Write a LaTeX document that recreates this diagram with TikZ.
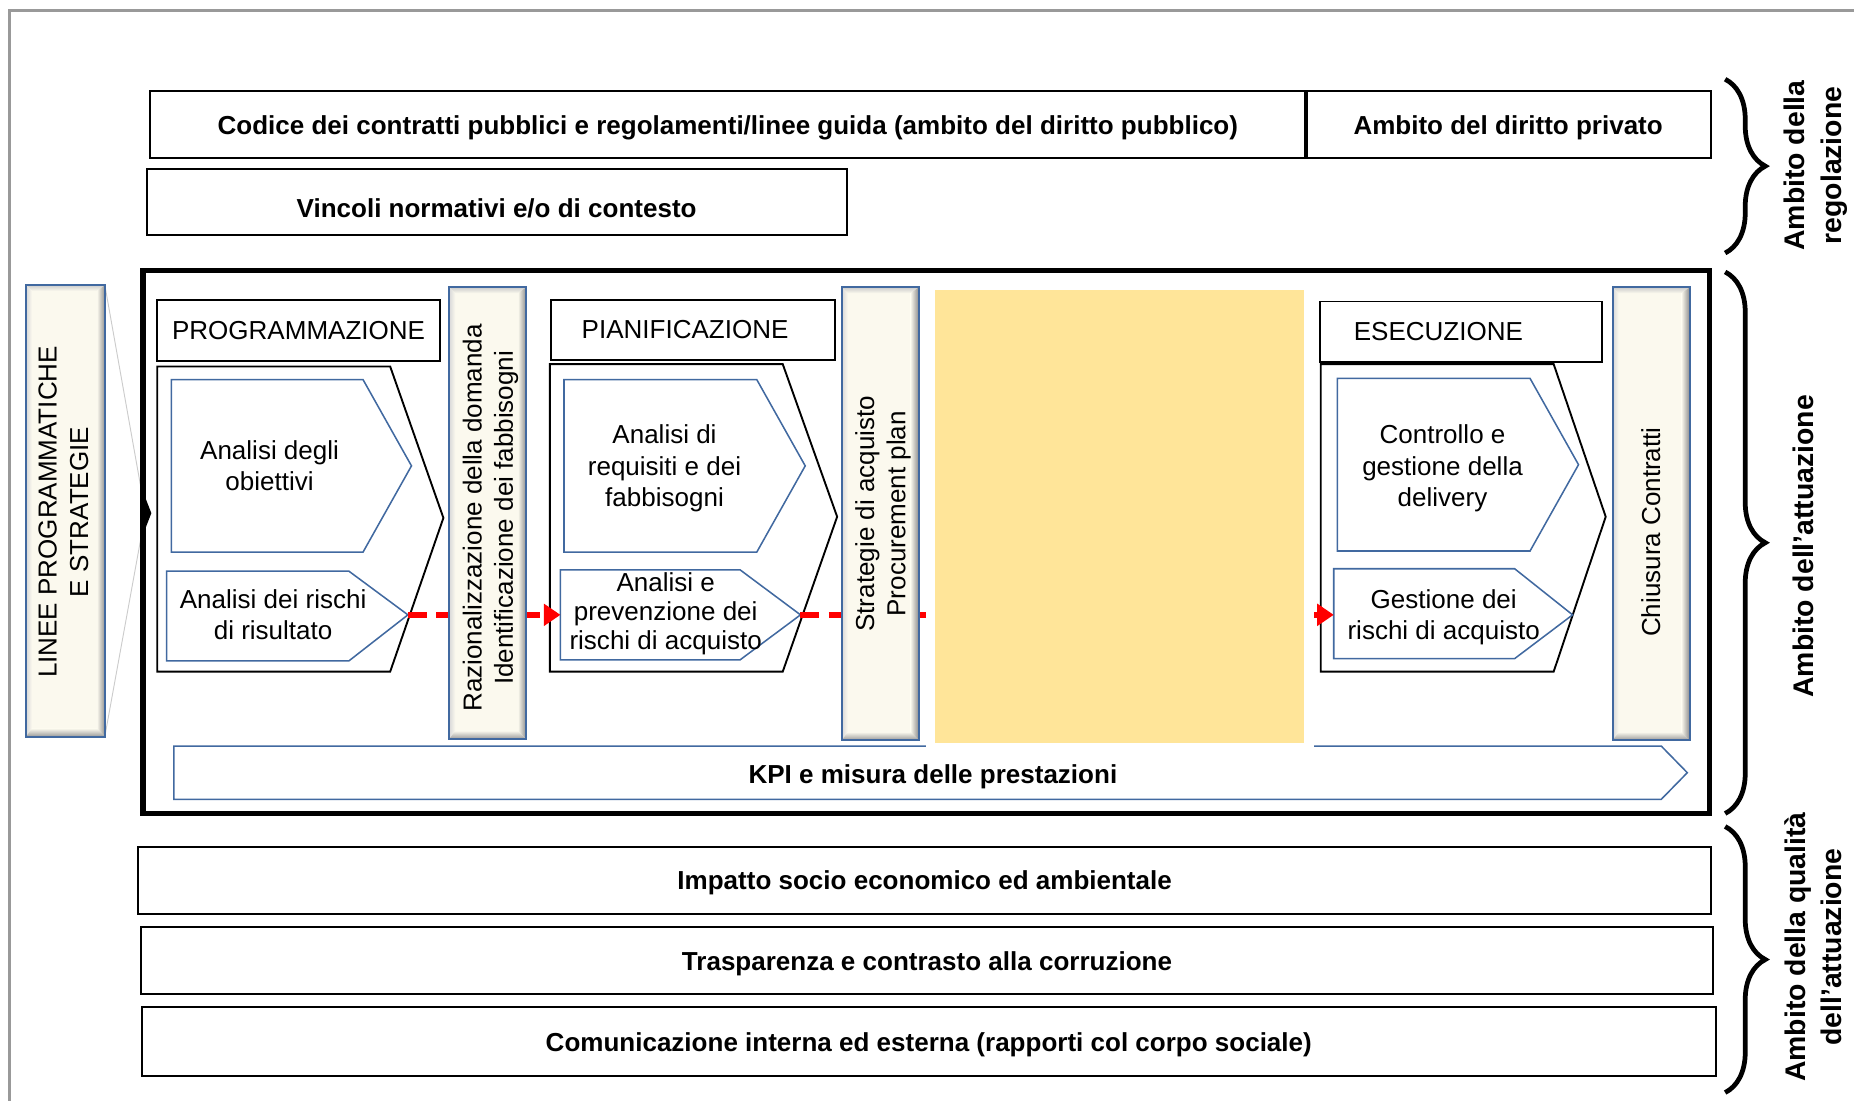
\documentclass[tikz,border=0pt]{standalone}
\usepackage{fontspec}
\setmainfont{Liberation Sans}
\usetikzlibrary{arrows.meta}
\usetikzlibrary{calc}
\usetikzlibrary{decorations.pathreplacing}

\definecolor{bordo}{RGB}{65,105,160}
\definecolor{crema}{RGB}{251,249,238}
\definecolor{giallo}{RGB}{255,229,153}
\definecolor{freccia}{RGB}{255,0,0}

% bevelled bar: corners (x1,y1) and (x2,y2)
\newcommand{\barra}[4]{%
  \fill[crema] (#1,#2) rectangle (#3,#4);
  \shade[top color=gray!40, bottom color=crema] (#1,#2) -- (#3,#2) -- ($(#3,#2)+(-0.7,0.5)$) -- ($(#1,#2)+(0.5,0.5)$) -- cycle;
  \shade[left color=gray!30, right color=crema] (#1,#2) -- ($(#1,#2)+(0.5,0.5)$) -- ($(#1,#4)+(0.5,-0.7)$) -- (#1,#4) -- cycle;
  \shade[left color=crema, right color=gray!90] (#3,#2) -- ($(#3,#2)+(-0.7,0.5)$) -- ($(#3,#4)+(-0.7,-0.7)$) -- (#3,#4) -- cycle;
  \shade[top color=crema, bottom color=gray!80] (#1,#4) -- ($(#1,#4)+(0.5,-0.7)$) -- ($(#3,#4)+(-0.7,-0.7)$) -- (#3,#4) -- cycle;
  \draw[bordo, line width=1.5pt] (#1,#2) rectangle (#3,#4);
}

\begin{document}
\begin{tikzpicture}[x=10pt,y=-10pt]
\tikzset{
  plaintext/.style={font=\fontsize{22}{26.5}\selectfont, align=center, inner sep=0pt, text depth=0pt},
  boldtext/.style={font=\fontsize{22}{26.5}\selectfont\bfseries, align=center, inner sep=0pt, text depth=0pt},
  rulebox/.style={draw, line width=1.6pt, boldtext, minimum height=57pt},
  phasehead/.style={draw, line width=1.6pt, plaintext, minimum height=51pt},
  chevron/.style={draw, line width=1.6pt},
  bluearrow/.style={draw=bordo, line width=1.3pt},
  flowarrow/.style={draw=freccia, line width=5pt, dash pattern=on 16pt off 8pt, -{Triangle[length=14pt,width=18pt]}},
  sidebrace/.style={decorate, decoration={brace, amplitude=34pt}, line width=4pt},
  sidelabel/.style={font=\fontsize{24}{31}\selectfont\bfseries, align=center, rotate=90, text depth=0pt}
}
\useasboundingbox (0,0) rectangle (156.8,93.1);

% cornice
\draw[gray!80, line width=2.5pt] (0.8,93.1) -- (0.8,0.85) -- (156.8,0.85);

% ambito della regolazione
\node[rulebox, minimum width=977pt] (codice) at (61.55,10.55) {Codice dei contratti pubblici e regolamenti/linee guida (ambito del diritto pubblico)};
\node[rulebox, minimum width=343pt] (privato) at (127.55,10.55) {Ambito del diritto privato};
\draw[line width=3pt] (codice.north east) -- (codice.south east);
\node[rulebox, minimum width=592pt, minimum height=56pt, text height=26pt] (vincoli) at (42.0,17.1) {Vincoli normativi e/o di contesto};

% ambito dell'attuazione
\coordinate (lineetop) at (8.9,24.3);
\coordinate (lineebot) at (8.9,62.1);
\coordinate (lineein) at (12.3,43.4);
\draw[gray!40, line width=0.8pt] (lineetop) -- (lineein) -- (lineebot);
\draw[line width=4.5pt] (12.1,22.9) rectangle (144.6,68.8);
\fill (12.1,41.6) -- (12.8,43.4) -- (12.1,45.2) -- cycle;

\barra{2.2}{24.1}{8.9}{62.3}
\node[plaintext, rotate=90] (linee) at (5.35,43.3) {LINEE PROGRAMMATICHE\\E STRATEGIE};

% programmazione
\node[phasehead, minimum width=239pt] (proghead) at (25.25,27.95) {PROGRAMMAZIONE};
\draw[chevron] (13.3,31.0) -- (33.0,31.0) -- (37.5,43.8) -- (33.0,56.8) -- (13.3,56.8) -- cycle;
\draw[bluearrow] (14.5,32.1) -- (30.7,32.1) -- (34.8,39.4) -- (30.7,46.7) -- (14.5,46.7) -- cycle;
\node[plaintext] (obiettivi) at (22.8,39.4) {Analisi degli\\obiettivi};
\draw[bluearrow] (14.1,48.3) -- (29.5,48.3) -- (34.5,52.0) -- (29.5,55.9) -- (14.1,55.9) -- cycle;
\node[plaintext] (risultato) at (23.1,52.0) {Analisi dei rischi\\di risultato};
\coordinate (ris1out) at (34.5,52.0);

% pianificazione
\node[phasehead, text width=188pt, inner xsep=26pt, align=left] (planhead) at (58.6,27.9) {PIANIFICAZIONE};
\draw[chevron] (46.5,30.8) -- (66.2,30.8) -- (70.8,43.7) -- (66.2,56.8) -- (46.5,56.8) -- cycle;
\draw[bluearrow] (47.7,32.1) -- (64.0,32.1) -- (68.1,39.4) -- (64.0,46.7) -- (47.7,46.7) -- cycle;
\node[plaintext] (requisiti) at (56.2,39.4) {Analisi di\\requisiti e dei\\fabbisogni};
\draw[bluearrow] (47.4,48.2) -- (62.6,48.2) -- (67.7,52.0) -- (62.6,55.8) -- (47.4,55.8) -- cycle;
\node[plaintext, font=\fontsize{22}{24.5}\selectfont] (prevenzione) at (56.3,51.7) {Analisi e\\prevenzione dei\\rischi di acquisto};
\coordinate (ris2in) at (47.4,52.0);
\coordinate (ris2out) at (67.7,52.0);

% esecuzione
\node[phasehead, text width=181pt, inner xsep=29pt, align=left] (exehead) at (123.55,28.05) {ESECUZIONE};
\draw[chevron] (111.7,30.8) -- (131.4,30.8) -- (135.8,43.7) -- (131.4,56.8) -- (111.7,56.8) -- cycle;
\draw[bluearrow] (113.1,32.0) -- (129.4,32.0) -- (133.5,39.3) -- (129.4,46.6) -- (113.1,46.6) -- cycle;
\node[plaintext] (controllo) at (122.0,39.4) {Controllo e\\gestione della\\delivery};
\draw[bluearrow] (112.8,48.1) -- (128.1,48.1) -- (133.0,52.0) -- (128.1,55.7) -- (112.8,55.7) -- cycle;
\node[plaintext] (gestione) at (122.1,52.0) {Gestione dei\\rischi di acquisto};
\coordinate (ris3in) at (112.8,52.0);

% frecce rosse
\draw[flowarrow] (ris1out) -- (ris2in);
\draw[flowarrow] (ris2out) -- (ris3in);

\barra{38.0}{24.3}{44.5}{62.5}
\node[plaintext, rotate=90] (razionalizzazione) at (41.25,43.8) {Razionalizzazione della domanda\\Identificazione dei fabbisogni};
\barra{71.2}{24.3}{77.7}{62.6}
\node[plaintext, rotate=90] (strategie) at (74.45,43.45) {Strategie di acquisto\\Procurement plan};
\barra{136.4}{24.3}{142.9}{62.6}
\node[plaintext, rotate=90] (chiusura) at (139.6,45.0) {Chiusura Contratti};

% KPI
\draw[bluearrow] (14.7,63.1) -- (140.5,63.1) -- (142.7,65.35) -- (140.5,67.6) -- (14.7,67.6) -- cycle;
\node[boldtext] (kpi) at (78.9,65.5) {KPI e misura delle prestazioni};

% blocco giallo
\fill[white] (78.3,23.7) rectangle (111.1,63.4);
\fill[giallo] (79.1,24.5) rectangle (110.3,62.8);

% ambito della qualita
\node[rulebox, minimum width=1330pt] (impatto) at (78.2,74.45) {Impatto socio economico ed ambientale};
\node[rulebox, minimum width=1330pt] (trasparenza) at (78.4,81.25) {Trasparenza e contrasto alla corruzione};
\node[rulebox, minimum width=1331pt, minimum height=58pt] (comunicazione) at (78.55,88.1) {Comunicazione interna ed esterna (rapporti col corpo sociale)};

% graffe
\draw[sidebrace] (145.9,6.7) -- (145.9,21.4);
\draw[sidebrace] (145.9,23.0) -- (145.9,68.8);
\draw[sidebrace] (145.9,69.9) -- (145.9,92.4);
\node[sidelabel] (regolazione) at (153.3,14.0) {Ambito della\\regolazione};
\node[sidelabel] (attuazione) at (152.5,46.2) {Ambito dell’attuazione};
\node[sidelabel] (qualita) at (153.35,80.1) {Ambito della qualità\\dell’attuazione};

\end{tikzpicture}
\end{document}
